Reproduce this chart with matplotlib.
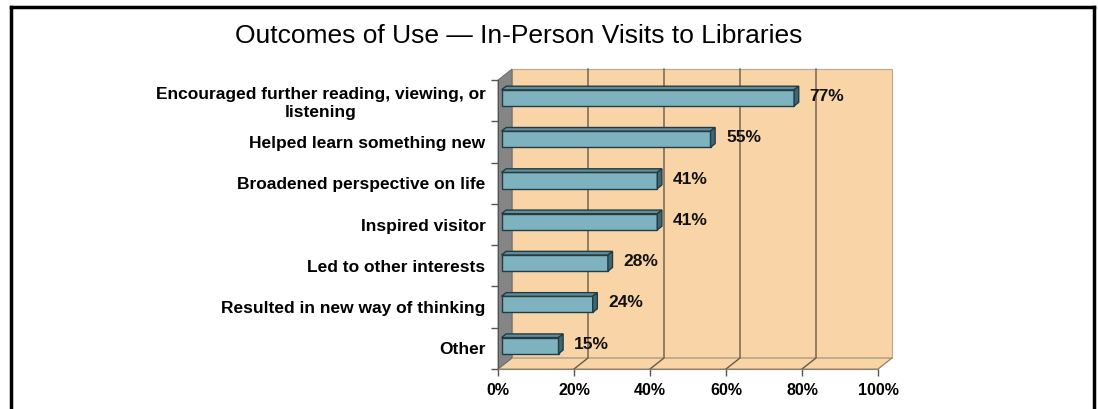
import matplotlib.pyplot as plt
from matplotlib.patches import Polygon
from matplotlib.lines import Line2D

# Survey results
categories = [
    "Encouraged further reading, viewing, or\nlistening",
    "Helped learn something new",
    "Broadened perspective on life",
    "Inspired visitor",
    "Led to other interests",
    "Resulted in new way of thinking",
    "Other",
]
percent = [77, 55, 41, 41, 28, 24, 15]
x_ticks = [0, 20, 40, 60, 80, 100]
x_tick_labels = ["0%", "20%", "40%", "60%", "80%", "100%"]
title = "Outcomes of Use \u2014 In-Person Visits to Libraries"

# colours
wall_color = "#f8d4a6"
side_wall_color = "#858585"
grid_color = "#6a5a48"
bar_front = "#7fb2bf"
bar_top = "#5f8d99"
bar_side = "#3e6772"
bar_edge = "#233c43"

plt.rcParams["font.family"] = ["Liberation Sans", "DejaVu Sans"]

W, H = 1098, 409
fig = plt.figure(figsize=(W / 100, H / 100), dpi=100)

# front plane of the pseudo-3D plot area, in pixels
px_left, px_right, px_top, px_bottom = 498, 878, 80, 369
ax = fig.add_axes([px_left / W, 1 - px_bottom / H,
                   (px_right - px_left) / W, (px_bottom - px_top) / H])

n = len(categories)
ax.set_xlim(0, 100)
ax.set_ylim(0, n)
ax.set_facecolor("none")

# depth of the box, in data units
dx = 14 / ((px_right - px_left) / 100)
dy = 11 / ((px_bottom - px_top) / n)

# back wall
ax.add_patch(Polygon([(dx, dy), (100 + dx, dy), (100 + dx, n + dy), (dx, n + dy)],
                     closed=True, facecolor=wall_color, edgecolor="#b8a891",
                     lw=0.8, clip_on=False, zorder=1))
# floor
ax.add_patch(Polygon([(0, 0), (100, 0), (100 + dx, dy), (dx, dy)],
                     closed=True, facecolor=wall_color, edgecolor="#9a9080",
                     lw=0.8, clip_on=False, zorder=1))
# left side wall
ax.add_patch(Polygon([(0, 0), (dx, dy), (dx, n + dy), (0, n)],
                     closed=True, facecolor=side_wall_color, edgecolor="#666666",
                     lw=0.6, clip_on=False, zorder=1))

# gridlines on the floor and back wall
for xv in x_ticks[1:-1]:
    ax.plot([xv, xv + dx, xv + dx], [0, dy, n + dy], color=grid_color,
            lw=1.0, clip_on=False, zorder=2)
ax.plot([100, 100 + dx], [0, dy], color="#9a9080", lw=0.8, clip_on=False, zorder=2)

# bars
centers = [n - i - 0.5 for i in range(n)]
bar_h = 0.39
f1, f2 = 0.25, 0.58
for c, v in zip(centers, percent):
    x0, x1 = f1 * dx, v + f1 * dx
    y0, y1 = c - bar_h / 2 + f1 * dy, c + bar_h / 2 + f1 * dy
    ddx, ddy = (f2 - f1) * dx, (f2 - f1) * dy
    front = Polygon([(x0, y0), (x1, y0), (x1, y1), (x0, y1)], closed=True,
                    facecolor=bar_front, edgecolor=bar_edge, lw=1.0,
                    clip_on=False, zorder=4)
    top = Polygon([(x0, y1), (x1, y1), (x1 + ddx, y1 + ddy), (x0 + ddx, y1 + ddy)],
                  closed=True, facecolor=bar_top, edgecolor=bar_edge, lw=1.0,
                  clip_on=False, zorder=4)
    side = Polygon([(x1, y0), (x1 + ddx, y0 + ddy), (x1 + ddx, y1 + ddy), (x1, y1)],
                   closed=True, facecolor=bar_side, edgecolor=bar_edge, lw=1.0,
                   clip_on=False, zorder=4)
    for p in (front, top, side):
        ax.add_patch(p)
    ax.text(v + 5.0, c + 0.1, f"{v}%", ha="left", va="center",
            fontsize=12.5, fontweight="bold", color="#111111", zorder=5)

# axes
for s in ("top", "right"):
    ax.spines[s].set_visible(False)
ax.spines["left"].set_color("#555555")
ax.spines["bottom"].set_color("#8a8070")
ax.spines["left"].set_zorder(3)
ax.spines["bottom"].set_zorder(3)

ax.set_xticks(x_ticks)
ax.set_xticklabels(x_tick_labels, fontsize=11.5, fontweight="bold")
ax.tick_params(axis="x", length=5, width=1, color="#555555", pad=5)

ax.set_yticks(centers)
ax.set_yticklabels(categories, fontsize=12.5, fontweight="bold")
ax.set_yticks([float(k) for k in range(n + 1)], minor=True)
ax.tick_params(axis="y", which="major", length=0, pad=9)
ax.tick_params(axis="y", which="minor", length=5, width=1, color="#555555")
for lbl in ax.get_yticklabels():
    lbl.set_multialignment("center")

fig.text(519 / W, 1 - 36 / H, title, ha="center", va="center", fontsize=19)

# outer frame
frame_kw = dict(color="black", lw=2.5, transform=fig.transFigure)
fig.add_artist(Line2D([10.5 / W, 10.5 / W], [0, 1 - 6.5 / H], **frame_kw))
fig.add_artist(Line2D([10.5 / W, 1093.5 / W], [1 - 6.5 / H, 1 - 6.5 / H], **frame_kw))
fig.add_artist(Line2D([1093.5 / W, 1093.5 / W], [0, 1 - 6.5 / H], **frame_kw))

fig.savefig("out.png", dpi=100)
